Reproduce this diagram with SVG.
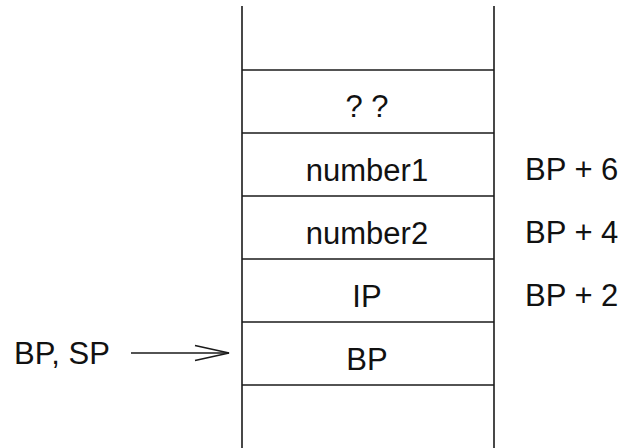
<svg xmlns="http://www.w3.org/2000/svg" width="623" height="448" viewBox="0 0 623 448">
  <style>
    .ln { stroke: #1a1a1a; stroke-width: 1.6; fill: none; }
    .t { font-family: "Liberation Sans", Arial, sans-serif; font-size: 31px; fill: #111; }
    .c { text-anchor: middle; }
  </style>
  <rect width="623" height="448" fill="#fff"/>
  <!-- stack frame -->
  <g id="stack">
    <line class="ln" x1="242" y1="6" x2="242" y2="448"/>
    <line class="ln" x1="494" y1="6" x2="494" y2="448"/>
    <line class="ln" x1="242" y1="70" x2="494" y2="70"/>
    <line class="ln" x1="242" y1="133" x2="494" y2="133"/>
    <line class="ln" x1="242" y1="196" x2="494" y2="196"/>
    <line class="ln" x1="242" y1="259" x2="494" y2="259"/>
    <line class="ln" x1="242" y1="322" x2="494" y2="322"/>
    <line class="ln" x1="242" y1="385" x2="494" y2="385"/>
  </g>
  <g id="slot-unknown"><text class="t c" x="367" y="117">? ?</text></g>
  <g id="slot-number1"><text class="t c" x="367" y="181">number1</text></g>
  <g id="slot-number2"><text class="t c" x="367" y="244">number2</text></g>
  <g id="slot-ip"><text class="t c" x="367" y="307">IP</text></g>
  <g id="slot-bp"><text class="t c" x="367" y="370">BP</text></g>
  <!-- offsets from BP -->
  <g id="off6"><text class="t" x="525" y="180">BP + 6</text></g>
  <g id="off4"><text class="t" x="525" y="243">BP + 4</text></g>
  <g id="off2"><text class="t" x="525" y="306">BP + 2</text></g>
  <g id="pointer"><text class="t" x="14" y="364">BP, SP</text></g>
  <g id="connectors">
    <line class="ln" x1="131" y1="353" x2="229" y2="353"/>
    <polyline class="ln" points="195,345.5 229,353 195,360.5"/>
  </g>
</svg>
